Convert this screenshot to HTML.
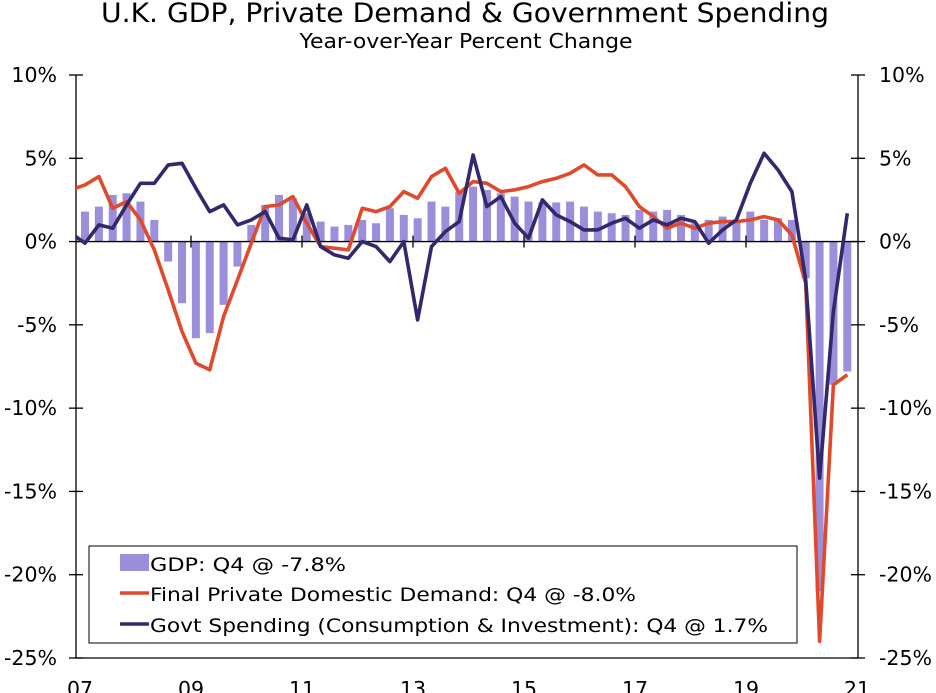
<!DOCTYPE html>
<html><head><meta charset="utf-8">
<style>
html,body{margin:0;padding:0;background:#fff;}
svg{display:block;font-family:"DejaVu Sans","Liberation Sans",sans-serif;}
</style></head>
<body>
<svg id="chart" width="936" height="693" viewBox="0 0 936 693" xmlns="http://www.w3.org/2000/svg">
<defs><clipPath id="plotclip"><rect x="76" y="40" width="782" height="640"/></clipPath></defs>
<text x="465" y="22" font-size="27" text-anchor="middle" fill="#000" textLength="728" lengthAdjust="spacingAndGlyphs">U.K. GDP, Private Demand &amp; Government Spending</text>
<text x="466" y="48" font-size="20" text-anchor="middle" fill="#000" textLength="333" lengthAdjust="spacingAndGlyphs">Year-over-Year Percent Change</text>
<g id="bars"></g>
<g id="axes"></g>
<g id="lines" clip-path="url(#plotclip)"></g>
<g>
<rect x="89" y="546" width="708" height="97" fill="#fff" stroke="#000" stroke-width="1"/>
<rect x="120" y="554" width="29" height="17" fill="#9b8fdc"/>
<text x="150" y="571" font-size="19" fill="#000" textLength="196" lengthAdjust="spacingAndGlyphs">GDP: Q4 @ -7.8%</text>
<line x1="120" y1="593" x2="149" y2="593" stroke="#e04a2c" stroke-width="3.5"/>
<text x="150" y="601" font-size="19" fill="#000" textLength="486" lengthAdjust="spacingAndGlyphs">Final Private Domestic Demand: Q4 @ -8.0%</text>
<line x1="120" y1="624" x2="149" y2="624" stroke="#33286b" stroke-width="3.5"/>
<text x="150" y="632" font-size="19" fill="#000" textLength="618" lengthAdjust="spacingAndGlyphs">Govt Spending (Consumption &amp; Investment): Q4 @ 1.7%</text>
</g>
</svg>
<script>
const gdp = [1.8,2.1,2.8,2.9, 2.4,1.3,-1.2,-3.7, -5.8,-5.5,-3.8,-1.5, 1.0,2.2,2.8,2.6, 1.7,1.2,0.9,1.0, 1.3,1.1,2.0,1.6, 1.4,2.4,2.1,3.0, 3.3,3.1,2.9,2.7, 2.4,2.35,2.35,2.4, 2.1,1.8,1.7,1.6, 1.9,1.8,1.9,1.6, 1.1,1.3,1.5,1.3, 1.8,1.3,1.4,1.3, -2.2,-21.0,-8.6,-7.8];
// series begin at 2006Q4 (clipped at plot edge)
const privateDemand = [3.1, 3.4,3.9,2.0,2.4, 1.3,-0.5,-2.9,-5.4, -7.3,-7.7,-4.5,-2.3, -0.1,2.1,2.2,2.7, 1.1,-0.3,-0.4,-0.5, 2.0,1.8,2.1,3.0, 2.6,3.9,4.4,2.9, 3.6,3.5,3.0,3.1, 3.3,3.6,3.8,4.1, 4.6,4.0,4.0,3.3, 2.1,1.5,0.8,1.1, 0.8,1.1,1.2,1.2, 1.3,1.5,1.3,0.4, -2.5,-24.0,-8.6,-8.0];
const govt = [0.5, -0.1,1.0,0.8,2.2, 3.5,3.5,4.6,4.7, 3.2,1.8,2.2,1.0, 1.3,1.8,0.2,0.1, 2.2,-0.3,-0.8,-1.0, 0.0,-0.3,-1.2,0.0, -4.7,-0.3,0.6,1.2, 5.2,2.1,2.7,1.1, 0.2,2.5,1.6,1.2, 0.7,0.7,1.1,1.4, 0.8,1.3,1.0,1.4, 1.2,-0.1,0.7,1.3, 3.5,5.3,4.3,3.0, -2.3,-14.2,-4.2,1.7];
const yTicks = [10,5,0,-5,-10,-15,-20,-25];
const yTickLabels = ["10%","5%","0%","-5%","-10%","-15%","-20%","-25%"];
const xLabels = ["07","09","11","13","15","17","19","21"];
const xLabelYears = [2007,2009,2011,2013,2015,2017,2019,2021];

const NS="http://www.w3.org/2000/svg";
const L=76,R=858,T=75,B=658;
function yS(v){return T+(10-v)*(B-T)/35;}
function xYear(yr){return 80+(yr-2007)*(857-80)/14;}
function xQ(i){return 85+i*13.86;}
function mk(tag,attrs,parent){const e=document.createElementNS(NS,tag);for(const k in attrs)e.setAttribute(k,attrs[k]);parent.appendChild(e);return e;}

const bars=document.getElementById('bars');
gdp.forEach((v,i)=>{
  const y0=yS(0),y1=yS(v);
  const r=mk('rect',{x:xQ(i)-4,y:Math.min(y0,y1),width:8,height:Math.abs(y1-y0),fill:'#9b8fdc'},bars);
  
  
});

const axes=document.getElementById('axes');
function ln(x1,y1,x2,y2,nm){const l=mk('line',{x1,y1,x2,y2,stroke:'#000','stroke-width':1.3},axes);
  
  }
ln(L,T,L,B,'left-axis');
ln(R,T,R,B,'right-axis');
ln(L,B,R,B,'bottom-axis');
ln(L,yS(0),R,yS(0),'zero-line');
yTicks.forEach((v,i)=>{
  const y=yS(v);
  ln(L-7,y,L+7,y,'left-tick');
  ln(R-7,y,R+7,y,'right-tick');
  const t1=mk('text',{x:57,y:y+7,'font-size':20.5,'text-anchor':'end',fill:'#000'},axes);
  t1.textContent=yTickLabels[i];
  
  
  const t2=mk('text',{x:879,y:y+7,'font-size':20.5,'text-anchor':'start',fill:'#000'},axes);
  t2.textContent=yTickLabels[i];
  
  
});
xLabelYears.forEach((yr,i)=>{
  const x=xYear(yr);
  if(i>0&&i<xLabelYears.length-1) ln(x,yS(0)-6,x,yS(0)+6,'x-tick');
  const t=mk('text',{x:x,y:696,'font-size':20.5,'text-anchor':'middle',fill:'#000'},axes);
  t.textContent=xLabels[i];
  
  
});

const lines=document.getElementById('lines');
function series(vals,color,nm){
  const pts=vals.map((v,i)=>xQ(i-1).toFixed(1)+','+yS(v).toFixed(1)).join(' ');
  const p=mk('polyline',{points:pts,fill:'none',stroke:color,'stroke-width':3.6,'stroke-linejoin':'round'},lines);
  
  
}
series(privateDemand,'#e04a2c','private-demand-line');
series(govt,'#33286b','govt-spending-line');
</script>
</body></html>
